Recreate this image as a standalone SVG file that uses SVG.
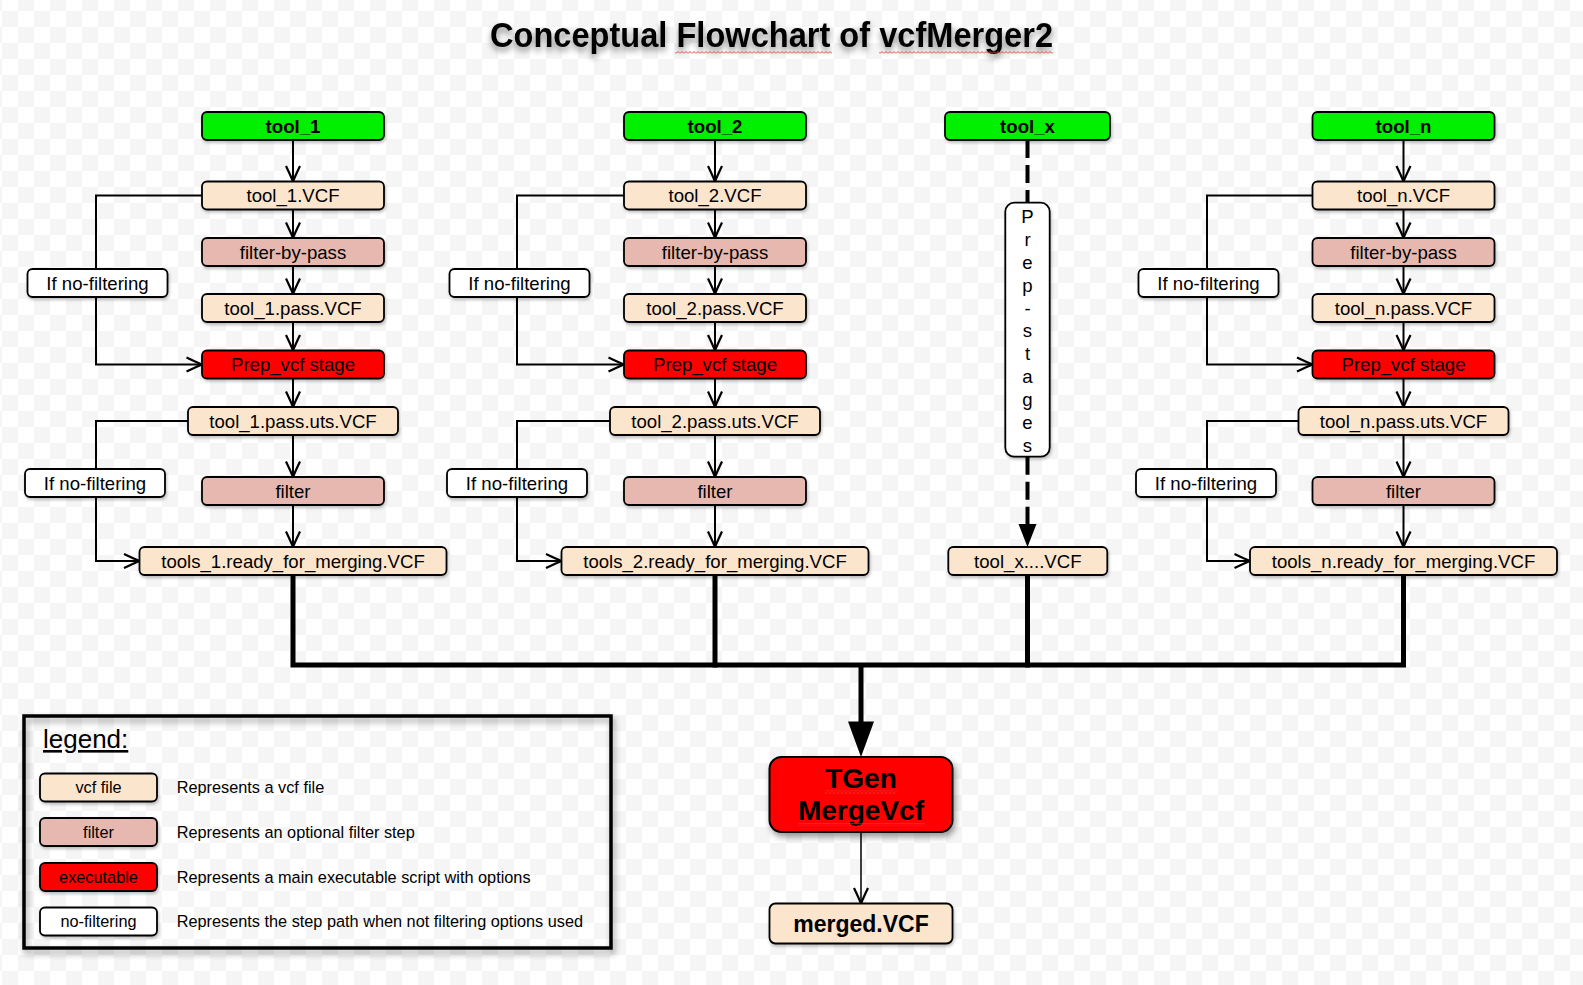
<svg xmlns="http://www.w3.org/2000/svg" width="1583" height="985" viewBox="0 0 1583 985">
<defs>
<pattern id="checker" x="18" y="27" width="32" height="32" patternUnits="userSpaceOnUse">
<rect width="32" height="32" fill="#ffffff"/>
<rect width="16" height="16" fill="#f5f5f5"/>
<rect x="16" y="16" width="16" height="16" fill="#f5f5f5"/>
</pattern>
<pattern id="squig" width="4" height="3" patternUnits="userSpaceOnUse">
<path d="M0,2.5 L2,0.5 L4,2.5" fill="none" stroke="#e8403a" stroke-width="1"/>
</pattern>
<marker id="arr" viewBox="-17 -8 19 16" markerWidth="19" markerHeight="16" refX="0" refY="0" orient="auto" markerUnits="userSpaceOnUse" overflow="visible">
<path d="M-15.5,-7 Q-5,-2 0,0 Q-5,2 -15.5,7" fill="none" stroke="#000" stroke-width="2.2"/>
</marker>
<filter id="sh" x="-10%" y="-20%" width="120%" height="150%">
<feDropShadow dx="1" dy="2" stdDeviation="1.5" flood-color="#000" flood-opacity="0.25"/>
</filter>
<filter id="shBig" x="-10%" y="-20%" width="130%" height="150%">
<feDropShadow dx="2" dy="4" stdDeviation="3" flood-color="#000" flood-opacity="0.4"/>
</filter>
<filter id="tsh" x="-5%" y="-30%" width="110%" height="180%">
<feDropShadow dx="0" dy="4" stdDeviation="3" flood-color="#000" flood-opacity="0.45"/>
</filter>
<style>
.n rect{stroke:#000;stroke-width:1.8;filter:url(#sh)}
.vcf{fill:#fce5cd}
.flt{fill:#e6b8af}
.exe{fill:#ff0000}
.src{fill:#00f000}
.nf{fill:#ffffff}
text{font-family:"Liberation Sans",Arial,Helvetica,sans-serif;fill:#000}
.t{font-size:18.6px;text-anchor:middle}
.tb{font-size:18.6px;font-weight:bold;text-anchor:middle}
.lg{font-size:16.3px;text-anchor:middle}
.ld{font-size:16.3px}
.c path{fill:none;stroke:#000;stroke-width:2}
.c .a{marker-end:url(#arr)}
.c .thick{stroke-width:5;stroke-linejoin:miter;stroke-linecap:square}
.c .dash{stroke-width:4;stroke-dasharray:18,7}
</style>
</defs>
<rect width="1583" height="985" fill="url(#checker)"/>

<g id="title">
<text x="490" y="46.5" font-size="35" font-weight="bold" textLength="563" lengthAdjust="spacingAndGlyphs" filter="url(#tsh)">Conceptual Flowchart of vcfMerger2</text>
<rect x="675" y="51" width="157" height="3" fill="url(#squig)"/>
<rect x="879" y="51" width="174" height="3" fill="url(#squig)"/>
</g>

<g id="connectors" class="c">
<!-- column 1 -->
<path class="a" d="M293,140 V181.5"/>
<path class="a" d="M293,209.5 V238"/>
<path class="a" d="M293,266 V294"/>
<path class="a" d="M293,322 V350.5"/>
<path class="a" d="M293,378.5 V407"/>
<path class="a" d="M293,435 V477"/>
<path class="a" d="M293,505 V547"/>
<path class="a" d="M202,195.5 H96 V364.5 H202"/>
<path class="a" d="M188,421 H96 V561 H139.5"/>
<!-- column 2 -->
<path class="a" d="M715,140 V181.5"/>
<path class="a" d="M715,209.5 V238"/>
<path class="a" d="M715,266 V294"/>
<path class="a" d="M715,322 V350.5"/>
<path class="a" d="M715,378.5 V407"/>
<path class="a" d="M715,435 V477"/>
<path class="a" d="M715,505 V547"/>
<path class="a" d="M624,195.5 H517 V364.5 H624"/>
<path class="a" d="M610,421 H517 V561 H561.5"/>
<!-- column n -->
<path class="a" d="M1403.5,140 V181.5"/>
<path class="a" d="M1403.5,209.5 V238"/>
<path class="a" d="M1403.5,266 V294"/>
<path class="a" d="M1403.5,322 V350.5"/>
<path class="a" d="M1403.5,378.5 V407"/>
<path class="a" d="M1403.5,435 V477"/>
<path class="a" d="M1403.5,505 V547"/>
<path class="a" d="M1312.5,195.5 H1207 V364.5 H1312.5"/>
<path class="a" d="M1298.5,421 H1207 V561 H1250"/>
<!-- column x -->
<path class="dash" d="M1027.5,140 V202.7"/>
<path class="dash" d="M1027.5,456.7 V526"/>
<polygon points="1018.5,524 1036.5,524 1027.5,547" fill="#000"/>
<!-- merge bus -->
<path class="thick" d="M293,575 V665 H1403.5 V575"/>
<path class="thick" d="M715,575 V665"/>
<path class="thick" d="M1027.5,575 V665"/>
<path class="thick" d="M861,665 V723" style="stroke-linecap:butt"/>
<polygon points="848,721.5 874,721.5 861,757" fill="#000"/>
<path class="a" d="M861,832 V903.5" style="stroke-width:1.5"/>
</g>

<g id="col1">
<g id="tool_1" class="n"><rect class="src" x="202" y="112" width="182" height="28" rx="5"/><text class="tb" x="293" y="132.5">tool_1</text></g>
<g id="tool_1_vcf" class="n"><rect class="vcf" x="202" y="181.5" width="182" height="28" rx="5"/><text class="t" x="293" y="202">tool_1.VCF</text></g>
<g id="tool_1_fbp" class="n"><rect class="flt" x="202" y="238" width="182" height="28" rx="5"/><text class="t" x="293" y="258.5">filter-by-pass</text></g>
<g id="tool_1_pass" class="n"><rect class="vcf" x="202" y="294" width="182" height="28" rx="5"/><text class="t" x="293" y="314.5">tool_1.pass.VCF</text></g>
<g id="tool_1_prep" class="n"><rect class="exe" x="202" y="350.5" width="182" height="28" rx="5"/><text class="t" x="293" y="371">Prep_vcf stage</text></g>
<g id="tool_1_uts" class="n"><rect class="vcf" x="188" y="407" width="210" height="28" rx="5"/><text class="t" x="293" y="427.5">tool_1.pass.uts.VCF</text></g>
<g id="tool_1_filter" class="n"><rect class="flt" x="202" y="477" width="182" height="28" rx="5"/><text class="t" x="293" y="497.5">filter</text></g>
<g id="tool_1_ready" class="n"><rect class="vcf" x="139.5" y="547" width="307" height="28" rx="5"/><text class="t" x="293" y="567.5">tools_1.ready_for_merging.VCF</text></g>
<g id="tool_1_nf1" class="n"><rect class="nf" x="27.5" y="269" width="140" height="28" rx="5"/><text class="t" x="97.5" y="289.5">If no-filtering</text></g>
<g id="tool_1_nf2" class="n"><rect class="nf" x="25" y="469" width="140" height="28" rx="5"/><text class="t" x="95" y="489.5">If no-filtering</text></g>
</g>

<g id="col2">
<g id="tool_2" class="n"><rect class="src" x="624" y="112" width="182" height="28" rx="5"/><text class="tb" x="715" y="132.5">tool_2</text></g>
<g id="tool_2_vcf" class="n"><rect class="vcf" x="624" y="181.5" width="182" height="28" rx="5"/><text class="t" x="715" y="202">tool_2.VCF</text></g>
<g id="tool_2_fbp" class="n"><rect class="flt" x="624" y="238" width="182" height="28" rx="5"/><text class="t" x="715" y="258.5">filter-by-pass</text></g>
<g id="tool_2_pass" class="n"><rect class="vcf" x="624" y="294" width="182" height="28" rx="5"/><text class="t" x="715" y="314.5">tool_2.pass.VCF</text></g>
<g id="tool_2_prep" class="n"><rect class="exe" x="624" y="350.5" width="182" height="28" rx="5"/><text class="t" x="715" y="371">Prep_vcf stage</text></g>
<g id="tool_2_uts" class="n"><rect class="vcf" x="610" y="407" width="210" height="28" rx="5"/><text class="t" x="715" y="427.5">tool_2.pass.uts.VCF</text></g>
<g id="tool_2_filter" class="n"><rect class="flt" x="624" y="477" width="182" height="28" rx="5"/><text class="t" x="715" y="497.5">filter</text></g>
<g id="tool_2_ready" class="n"><rect class="vcf" x="561.5" y="547" width="307" height="28" rx="5"/><text class="t" x="715" y="567.5">tools_2.ready_for_merging.VCF</text></g>
<g id="tool_2_nf1" class="n"><rect class="nf" x="449.5" y="269" width="140" height="28" rx="5"/><text class="t" x="519.5" y="289.5">If no-filtering</text></g>
<g id="tool_2_nf2" class="n"><rect class="nf" x="447" y="469" width="140" height="28" rx="5"/><text class="t" x="517" y="489.5">If no-filtering</text></g>
</g>

<g id="colx">
<g id="tool_x" class="n"><rect class="src" x="945" y="112" width="165" height="28" rx="5"/><text class="tb" x="1027.5" y="132.5">tool_x</text></g>
<g id="prep_stages" class="n"><rect class="nf" x="1005.3" y="202.7" width="44.4" height="254" rx="9"/>
<text class="t" x="1027.5" y="223">P</text>
<text class="t" x="1027.5" y="245.9">r</text>
<text class="t" x="1027.5" y="268.7">e</text>
<text class="t" x="1027.5" y="291.6">p</text>
<text class="t" x="1027.5" y="314.5">-</text>
<text class="t" x="1027.5" y="337.4">s</text>
<text class="t" x="1027.5" y="360.2">t</text>
<text class="t" x="1027.5" y="383.1">a</text>
<text class="t" x="1027.5" y="406">g</text>
<text class="t" x="1027.5" y="428.8">e</text>
<text class="t" x="1027.5" y="451.7">s</text>
</g>
<g id="tool_x_vcf" class="n"><rect class="vcf" x="948.3" y="547" width="159" height="28" rx="5"/><text class="t" x="1027.8" y="567.5">tool_x....VCF</text></g>
</g>

<g id="coln">
<g id="tool_n" class="n"><rect class="src" x="1312.5" y="112" width="182" height="28" rx="5"/><text class="tb" x="1403.5" y="132.5">tool_n</text></g>
<g id="tool_n_vcf" class="n"><rect class="vcf" x="1312.5" y="181.5" width="182" height="28" rx="5"/><text class="t" x="1403.5" y="202">tool_n.VCF</text></g>
<g id="tool_n_fbp" class="n"><rect class="flt" x="1312.5" y="238" width="182" height="28" rx="5"/><text class="t" x="1403.5" y="258.5">filter-by-pass</text></g>
<g id="tool_n_pass" class="n"><rect class="vcf" x="1312.5" y="294" width="182" height="28" rx="5"/><text class="t" x="1403.5" y="314.5">tool_n.pass.VCF</text></g>
<g id="tool_n_prep" class="n"><rect class="exe" x="1312.5" y="350.5" width="182" height="28" rx="5"/><text class="t" x="1403.5" y="371">Prep_vcf stage</text></g>
<g id="tool_n_uts" class="n"><rect class="vcf" x="1298.5" y="407" width="210" height="28" rx="5"/><text class="t" x="1403.5" y="427.5">tool_n.pass.uts.VCF</text></g>
<g id="tool_n_filter" class="n"><rect class="flt" x="1312.5" y="477" width="182" height="28" rx="5"/><text class="t" x="1403.5" y="497.5">filter</text></g>
<g id="tool_n_ready" class="n"><rect class="vcf" x="1250" y="547" width="307" height="28" rx="5"/><text class="t" x="1403.5" y="567.5">tools_n.ready_for_merging.VCF</text></g>
<g id="tool_n_nf1" class="n"><rect class="nf" x="1138.5" y="269" width="140" height="28" rx="5"/><text class="t" x="1208.5" y="289.5">If no-filtering</text></g>
<g id="tool_n_nf2" class="n"><rect class="nf" x="1136" y="469" width="140" height="28" rx="5"/><text class="t" x="1206" y="489.5">If no-filtering</text></g>
</g>

<g id="tgen_merge">
<rect x="769.5" y="757" width="183" height="75" rx="12" fill="#ff0000" stroke="#000" stroke-width="2" filter="url(#shBig)"/>
<text x="861" y="788" font-size="28" font-weight="bold" text-anchor="middle">TGen</text>
<text x="861" y="819.5" font-size="28" font-weight="bold" text-anchor="middle">MergeVcf</text>
<rect x="825" y="790.5" width="72" height="3" fill="url(#squig)"/>
<rect x="798" y="823" width="127" height="3" fill="url(#squig)"/>
</g>

<g id="merged_vcf">
<rect x="769.5" y="903.5" width="183" height="40" rx="6" fill="#fce5cd" stroke="#000" stroke-width="1.8" filter="url(#sh)"/>
<text x="861" y="931.5" font-size="23" font-weight="bold" text-anchor="middle">merged.VCF</text>
</g>

<g id="legend">
<rect x="24" y="716" width="587" height="232" fill="none" stroke="#000" stroke-width="3.5" filter="url(#shBig)"/>
<text x="43" y="748" font-size="26" text-decoration="underline">legend:</text>
<g class="n">
<rect class="vcf" x="40" y="773.5" width="117" height="28" rx="5"/>
<rect class="flt" x="40" y="818" width="117" height="28" rx="5"/>
<rect class="exe" x="40" y="863" width="117" height="28" rx="5"/>
<rect class="nf" x="40" y="907.5" width="117" height="28" rx="5"/>
</g>
<text class="lg" x="98.5" y="793">vcf file</text>
<text class="lg" x="98.5" y="837.5">filter</text>
<text class="lg" x="98.5" y="882.5">executable</text>
<text class="lg" x="98.5" y="927">no-filtering</text>
<text class="ld" x="176.7" y="793">Represents a vcf file</text>
<text class="ld" x="176.7" y="837.5">Represents an optional filter step</text>
<text class="ld" x="176.7" y="882.5">Represents a main executable script with options</text>
<text class="ld" x="176.7" y="927">Represents the step path when not filtering options used</text>
</g>
</svg>
